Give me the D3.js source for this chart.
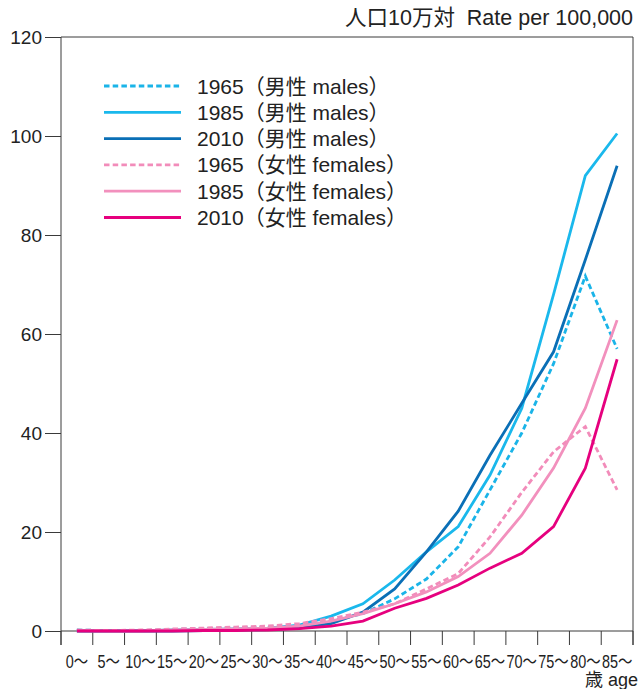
<!DOCTYPE html>
<html><head><meta charset="utf-8">
<script src="https://cdn.jsdelivr.net/npm/d3@7"></script>
<style>
html,body{margin:0;padding:0;background:#fff;}
svg{display:block;font-family:"Liberation Sans","Noto Sans CJK JP",sans-serif;}
</style></head>
<body><svg id="c" width="640" height="689"></svg>
<script>
const ages = ["0～","5～","10～","15～","20～","25～","30～","35～","40～","45～","50～","55～","60～","65～","70～","75～","80～","85～"];
const yTicks = [0,20,40,60,80,100,120];
const males1965 = [0.2,0.1,0.1,0.3,0.5,0.6,0.8,1.0,2.0,3.5,6.5,10.5,17,28.5,40,54,71.7,57];
const males1985 = [0.1,0,0,0.2,0.3,0.4,0.6,1.2,3.0,5.5,10.3,16,21.1,31.5,45,68,92,100.5];
const males2010 = [0,0,0,0,0.1,0.2,0.3,0.6,1.5,3.8,8.5,16,24.2,35.5,46,56.4,75,94];
const females1965 = [0.2,0.1,0.2,0.4,0.6,0.8,1.0,1.5,2.5,3.8,5.5,8.5,11.6,19,28,36.2,41.3,28.5];
const females1985 = [0.1,0,0,0.2,0.3,0.4,0.6,1.0,2.0,3.5,5.5,7.9,11,15.7,23.4,32.9,45,62.8];
const females2010 = [0,0,0,0,0.1,0.1,0.2,0.5,1.0,2.0,4.6,6.6,9.3,12.7,15.7,21.1,32.9,54.9];
const seriesNames = ["1965（男性 males）","1985（男性 males）","2010（男性 males）","1965（女性 females）","1985（女性 females）","2010（女性 females）"];
const titleText = "人口10万対  Rate per 100,000";
const xTitle = "歳 age";

const series = [
  {name:seriesNames[0], values:males1965, color:"#1ab4e8", dash:"5.5,3.2"},
  {name:seriesNames[1], values:males1985, color:"#1ab8ec", dash:null},
  {name:seriesNames[2], values:males2010, color:"#0a6fb6", dash:null},
  {name:seriesNames[3], values:females1965, color:"#f28cba", dash:"5.5,3.2"},
  {name:seriesNames[4], values:females1985, color:"#f290bd", dash:null},
  {name:seriesNames[5], values:females2010, color:"#e6007e", dash:null}
];

const L=61, R=633, T=37, B=631, tickLen=14;
const svg = d3.select("#c");
const x = d3.scaleBand().domain(ages).range([L,R]);
const y = d3.scaleLinear().domain([0,120]).range([B,T]);
const axisColor = "#3a3a3a";

// title
svg.append("text").attr("x",R).attr("y",25).attr("text-anchor","end")
  .attr("font-size",21.5).attr("fill","#222").attr("xml:space","preserve").text(titleText);

// frame lines
svg.append("line").attr("x1",L).attr("x2",R).attr("y1",T).attr("y2",T).attr("stroke",axisColor);
svg.append("line").attr("x1",L).attr("x2",L).attr("y1",T).attr("y2",B+tickLen).attr("stroke",axisColor);
svg.append("line").attr("x1",R).attr("x2",R).attr("y1",T).attr("y2",B+tickLen).attr("stroke",axisColor);
svg.append("line").attr("x1",L).attr("x2",R).attr("y1",B).attr("y2",B).attr("stroke",axisColor);

// y axis
const yAxis = d3.axisLeft(y).tickValues(yTicks).tickSize(16).tickPadding(3);
const gy = svg.append("g").attr("transform",`translate(${L},0)`).call(yAxis);
gy.select(".domain").remove();
gy.selectAll(".tick line").attr("stroke",axisColor);
gy.selectAll(".tick text").attr("font-size",19).attr("fill","#222").attr("font-family","Liberation Sans");

// x ticks at band boundaries
const bounds = ages.map(a=>x(a)).concat([x(ages[ages.length-1])+x.bandwidth()]);
svg.append("g").selectAll("line").data(bounds).join("line")
  .attr("x1",d=>d).attr("x2",d=>d).attr("y1",B).attr("y2",B+tickLen).attr("stroke",axisColor);
svg.append("g").selectAll("text").data(ages).join("text")
  .attr("transform",d=>`translate(${x(d)+x.bandwidth()/2},668) scale(0.8,1)`)
  .attr("text-anchor","middle").attr("font-size",18).attr("fill","#222").text(d=>d);
svg.append("text").attr("x",638).attr("y",686).attr("text-anchor","end")
  .attr("font-size",18).attr("fill","#222").text(xTitle);

// lines
const line = d3.line().x((d,i)=>x(ages[i])+x.bandwidth()/2).y(d=>y(d));
svg.append("g").selectAll("path").data(series).join("path")
  .attr("d",d=>line(d.values)).attr("fill","none")
  .attr("stroke",d=>d.color).attr("stroke-width",2.8)
  .attr("stroke-dasharray",d=>d.dash).attr("stroke-linejoin","miter");

// legend
const lg = svg.append("g").selectAll("g").data(series).join("g")
  .attr("transform",(d,i)=>`translate(0,${86+i*26.3})`);
lg.append("line").attr("x1",104).attr("x2",181).attr("y1",0).attr("y2",0)
  .attr("stroke",d=>d.color).attr("stroke-width",2.8).attr("stroke-dasharray",d=>d.dash);
lg.append("text").attr("x",197).attr("y",0).attr("dy","0.36em")
  .attr("font-size",21).attr("fill","#222").text(d=>d.name);
</script></body></html>
